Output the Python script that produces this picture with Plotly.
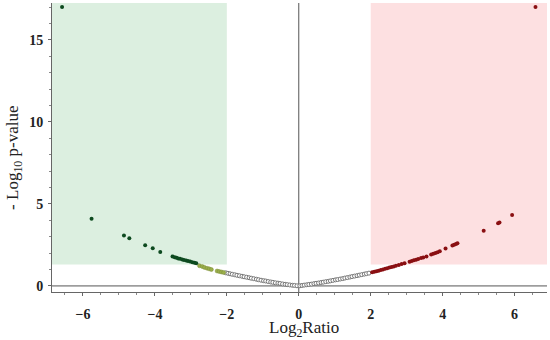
import plotly.graph_objects as go

# ---- data ----
down_x = [-6.58, -5.76, -4.86, -4.71, -4.27, -4.06, -3.85,
          -3.51, -3.45, -3.40, -3.35, -3.30, -3.24, -3.19, -3.13, -3.08, -3.02, -2.96, -2.90, -2.85]
down_y = [17.0, 4.09, 3.07, 2.90, 2.48, 2.30, 2.07,
          1.79, 1.75, 1.72, 1.68, 1.65, 1.61, 1.58, 1.55, 1.52, 1.49, 1.45, 1.42, 1.39]

weak_x = [-2.76, -2.68, -2.62, -2.55, -2.49, -2.43, -2.27, -2.21, -2.15, -2.09]
weak_y = [1.23, 1.18, 1.13, 1.08, 1.04, 1.00, 0.91, 0.88, 0.85, 0.82]

ns_x = [-2.03, -1.97, -1.91, -1.85, -1.78, -1.72, -1.65, -1.58, -1.52, -1.45, -1.38, -1.32,
        -1.25, -1.18, -1.12, -1.05, -0.98, -0.92, -0.85, -0.78, -0.72, -0.65, -0.58,
        -0.52, -0.45, -0.38, -0.32, -0.25, -0.18, -0.12, -0.05,
        0.03, 0.09, 0.15, 0.22, 0.28, 0.35, 0.42, 0.48, 0.55, 0.62, 0.68, 0.75, 0.82,
        0.88, 0.95, 1.02, 1.08, 1.15, 1.22, 1.28, 1.35, 1.42, 1.48, 1.55, 1.62, 1.68,
        1.75, 1.82, 1.88, 1.95]
ns_y = [0.80, 0.77, 0.74, 0.71, 0.68, 0.65, 0.62, 0.59, 0.56, 0.53, 0.50, 0.47,
        0.44, 0.41, 0.38, 0.35, 0.32, 0.30, 0.27, 0.24, 0.22, 0.19, 0.17,
        0.15, 0.12, 0.10, 0.08, 0.06, 0.04, 0.03, 0.01,
        0.01, 0.03, 0.05, 0.07, 0.09, 0.11, 0.14, 0.16, 0.18, 0.21, 0.23, 0.26, 0.28,
        0.31, 0.34, 0.37, 0.39, 0.42, 0.45, 0.48, 0.51, 0.54, 0.57, 0.60, 0.63, 0.66,
        0.69, 0.72, 0.75, 0.78]

up_x = [2.04, 2.10, 2.16, 2.22, 2.28, 2.34, 2.40, 2.46, 2.52, 2.58, 2.64, 2.70, 2.78,
        2.86, 2.94, 3.08, 3.14, 3.20, 3.26, 3.32, 3.40, 3.46, 3.55, 3.68, 3.74, 3.80,
        3.86, 3.92, 4.08, 4.27, 4.32, 4.37, 4.41, 5.14, 5.54, 5.58, 5.93, 6.58]
up_y = [0.83, 0.86, 0.90, 0.93, 0.97, 1.00, 1.04, 1.08, 1.12, 1.15, 1.19, 1.23, 1.28,
        1.33, 1.38, 1.48, 1.52, 1.56, 1.60, 1.64, 1.70, 1.74, 1.80, 1.92, 1.96, 2.01,
        2.06, 2.11, 2.28, 2.47, 2.51, 2.56, 2.60, 3.37, 3.82, 3.87, 4.33, 17.0]

fc_cut = 2
p_cut = 1.3
x_range = [-6.86, 6.9]
y_range = [-0.37, 17.25]
x_ticks = [-6, -4, -2, 0, 2, 4, 6]
x_labels = ["\u22126", "\u22124", "\u22122", "0", "2", "4", "6"]
y_ticks = [0, 5, 10, 15]
y_labels = ["0", "5", "10", "15"]
x_title = "Log<sub>2</sub>Ratio"
y_title = "- Log<sub>10</sub> p-value"

fig = go.Figure()

fig.add_shape(type="rect", x0=x_range[0], x1=-fc_cut, y0=p_cut, y1=y_range[1],
              fillcolor="#dcefe0", line_width=0, layer="below")
fig.add_shape(type="rect", x0=fc_cut, x1=x_range[1], y0=p_cut, y1=y_range[1],
              fillcolor="#fde0e1", line_width=0, layer="below")
fig.add_shape(type="line", x0=x_range[0], x1=x_range[1], y0=0, y1=0,
              line=dict(color="#555555", width=1), layer="below")
fig.add_shape(type="line", x0=0, x1=0, y0=y_range[0], y1=y_range[1],
              line=dict(color="#555555", width=1), layer="below")

fig.add_trace(go.Scatter(x=ns_x, y=ns_y, mode="markers",
                         marker=dict(size=4, color="white", line=dict(color="#777777", width=1)),
                         showlegend=False))
fig.add_trace(go.Scatter(x=weak_x, y=weak_y, mode="markers",
                         marker=dict(size=4, color="#9aae4a", line=dict(color="#7d8f3a", width=0.5)),
                         showlegend=False))
fig.add_trace(go.Scatter(x=down_x, y=down_y, mode="markers",
                         marker=dict(size=4, color="#0d4a1f"),
                         showlegend=False))
fig.add_trace(go.Scatter(x=up_x, y=up_y, mode="markers",
                         marker=dict(size=4, color="#8a0f12"),
                         showlegend=False))

serif = "Liberation Serif, DejaVu Serif, serif"
tickfont = dict(family=serif, size=14, color="#222222")

fig.add_annotation(text=x_title, xref="paper", yref="paper", x=0.509, y=-0.128,
                   xanchor="center", yanchor="middle", showarrow=False,
                   font=dict(family=serif, size=17, color="#222222"))
fig.add_annotation(text=y_title, xref="paper", yref="paper", x=-0.0768, y=0.464,
                   xanchor="center", yanchor="middle", showarrow=False, textangle=-90,
                   font=dict(family=serif, size=17, color="#222222"))

fig.update_layout(
    width=550, height=340,
    margin=dict(l=52, r=3, t=3, b=48),
    paper_bgcolor="white", plot_bgcolor="white",
    font=dict(family=serif, color="#222222"),
    xaxis=dict(range=x_range, tickvals=x_ticks, ticktext=["<b>%s</b>" % t for t in x_labels],
               showgrid=False, zeroline=False, showline=True, linecolor="#666666", linewidth=1,
               ticks="outside", ticklen=3, tickcolor="#666666", automargin=False,
               ticklabelstandoff=6,
               minor=dict(dtick=0.5, ticks="outside", ticklen=2, tickcolor="#888888"),
               tickfont=tickfont),
    yaxis=dict(range=y_range, tickvals=y_ticks, ticktext=["<b>%s</b>" % t for t in y_labels],
               showgrid=False, zeroline=False, showline=True, linecolor="#666666", linewidth=1,
               ticks="outside", ticklen=3, tickcolor="#666666", automargin=False,
               ticklabelstandoff=2,
               minor=dict(dtick=1, ticks="outside", ticklen=2, tickcolor="#888888"),
               tickfont=tickfont),
)

fig.write_html("out.html", config={"displayModeBar": False},
               post_script="document.body.style.margin='0px';")
